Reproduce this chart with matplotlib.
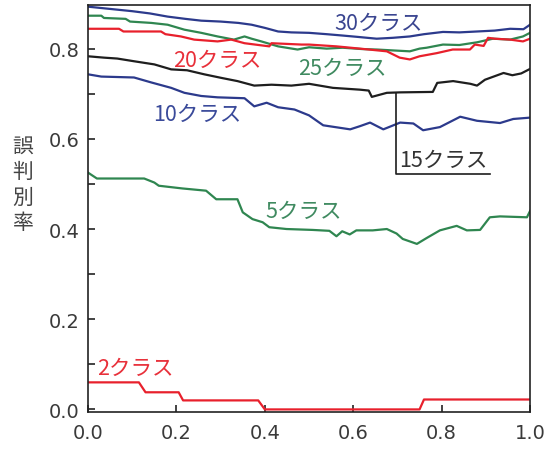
import matplotlib
matplotlib.use("Agg")
import matplotlib.pyplot as plt

plt.rcParams['font.family'] = ['Noto Sans CJK JP', 'DejaVu Sans']

# ---- data ----
x30 = [0.0, 0.05, 0.1, 0.14, 0.18, 0.22, 0.256, 0.3, 0.34, 0.37, 0.40, 0.43, 0.46,
       0.5, 0.54, 0.576, 0.61, 0.653, 0.69, 0.728, 0.76, 0.803, 0.84, 0.88, 0.92,
       0.955, 0.985, 1.0]
y30 = [0.893, 0.888, 0.883, 0.878, 0.871, 0.866, 0.862, 0.860, 0.857, 0.853, 0.846,
       0.838, 0.836, 0.835, 0.832, 0.829, 0.826, 0.822, 0.824, 0.827, 0.832, 0.837,
       0.836, 0.838, 0.840, 0.844, 0.843, 0.853]

x25 = [0.0, 0.03, 0.036, 0.085, 0.095, 0.143, 0.18, 0.218, 0.256, 0.293, 0.33, 0.354,
       0.37, 0.392, 0.43, 0.474, 0.5, 0.54, 0.576, 0.62, 0.653, 0.69, 0.728, 0.75,
       0.766, 0.803, 0.84, 0.88, 0.916, 0.955, 0.984, 1.0]
y25 = [0.873, 0.873, 0.868, 0.866, 0.860, 0.857, 0.853, 0.842, 0.835, 0.827, 0.820,
       0.827, 0.822, 0.816, 0.805, 0.798, 0.803, 0.800, 0.802, 0.799, 0.798, 0.796,
       0.794, 0.800, 0.802, 0.809, 0.808, 0.814, 0.822, 0.820, 0.827, 0.835]

x20 = [0.0, 0.07, 0.08, 0.165, 0.175, 0.21, 0.24, 0.293, 0.324, 0.354, 0.41, 0.415,
       0.483, 0.5, 0.562, 0.615, 0.676, 0.705, 0.728, 0.75, 0.789, 0.825, 0.864,
       0.875, 0.895, 0.905, 0.92, 0.955, 0.984, 1.0]
y20 = [0.844, 0.844, 0.838, 0.838, 0.832, 0.827, 0.820, 0.816, 0.820, 0.812, 0.805,
       0.812, 0.809, 0.809, 0.805, 0.800, 0.794, 0.780, 0.776, 0.783, 0.790, 0.798,
       0.798, 0.809, 0.806, 0.824, 0.822, 0.820, 0.816, 0.822]

x15 = [0.0, 0.036, 0.066, 0.104, 0.15, 0.188, 0.224, 0.263, 0.302, 0.338, 0.376,
       0.415, 0.46, 0.5, 0.554, 0.615, 0.635, 0.642, 0.676, 0.706, 0.78, 0.79,
       0.826, 0.865, 0.88, 0.898, 0.94, 0.96, 0.98, 1.0]
y15 = [0.783, 0.780, 0.778, 0.772, 0.765, 0.754, 0.752, 0.743, 0.735, 0.728, 0.718,
       0.720, 0.718, 0.722, 0.713, 0.709, 0.707, 0.693, 0.702, 0.703, 0.704, 0.724,
       0.728, 0.722, 0.718, 0.731, 0.746, 0.741, 0.745, 0.755]

x10 = [0.0, 0.03, 0.104, 0.143, 0.188, 0.218, 0.256, 0.293, 0.354, 0.376, 0.404,
       0.43, 0.467, 0.5, 0.532, 0.593, 0.615, 0.638, 0.668, 0.706, 0.736, 0.758,
       0.796, 0.842, 0.88, 0.932, 0.962, 1.0]
y10 = [0.743, 0.738, 0.736, 0.725, 0.713, 0.702, 0.695, 0.692, 0.690, 0.672, 0.680,
       0.670, 0.665, 0.652, 0.630, 0.621, 0.628, 0.636, 0.621, 0.636, 0.634, 0.619,
       0.626, 0.649, 0.640, 0.635, 0.644, 0.647]

x5 = [0.0, 0.02, 0.127, 0.15, 0.16, 0.213, 0.267, 0.29, 0.338, 0.35, 0.372, 0.395,
      0.41, 0.449, 0.508, 0.546, 0.562, 0.575, 0.592, 0.607, 0.644, 0.676, 0.698,
      0.712, 0.744, 0.766, 0.796, 0.834, 0.857, 0.887, 0.909, 0.932, 0.993, 1.0]
y5 = [0.525, 0.512, 0.512, 0.503, 0.496, 0.490, 0.485, 0.466, 0.466, 0.437, 0.422,
      0.415, 0.404, 0.400, 0.398, 0.396, 0.384, 0.395, 0.388, 0.397, 0.397, 0.400,
      0.390, 0.378, 0.367, 0.380, 0.397, 0.407, 0.397, 0.398, 0.426, 0.428, 0.426,
      0.440]

x2 = [0.0, 0.115, 0.13, 0.205, 0.215, 0.385, 0.40, 0.75, 0.76, 1.0]
y2 = [0.06, 0.06, 0.038, 0.038, 0.02, 0.02, 0.0, 0.0, 0.022, 0.022]

labels = ["30クラス", "25クラス", "20クラス", "15クラス", "10クラス", "5クラス", "2クラス"]
ylabel = "誤判別率"
xticks = [0.0, 0.2, 0.4, 0.6, 0.8, 1.0]
yticks = [0.0, 0.2, 0.4, 0.6, 0.8]

# ---- styles ----
c_blue = '#2c3a8c'
c_green = '#2f8650'
c_red = '#e8202c'
c_black = '#1e1e1e'

fig = plt.figure(figsize=(5.47, 4.52), dpi=100)
ax = fig.add_axes([0.161, 0.086, 0.808, 0.901])

lw = 1.6
ax.plot(x30, y30, color=c_blue, lw=lw)
ax.plot(x25, y25, color=c_green, lw=lw)
ax.plot(x20, y20, color=c_red, lw=lw)
ax.plot(x15, y15, color=c_black, lw=lw)
ax.plot(x10, y10, color=c_blue, lw=lw)
ax.plot(x5, y5, color=c_green, lw=lw)
ax.plot(x2, y2, color=c_red, lw=lw)

ax.set_xlim(0, 1)
ax.set_ylim(-0.006, 0.897)

fs = 15.5
ax.text(0.658, 0.856, labels[0], color='#3a4590', fontsize=fs, ha='center', va='center')
ax.text(0.575, 0.758, labels[1], color='#3f8a60', fontsize=fs, ha='center', va='center')
ax.text(0.292, 0.776, labels[2], color='#e8303a', fontsize=fs, ha='center', va='center')
ax.text(0.703, 0.553, labels[3], color='#333333', fontsize=fs, ha='left', va='center')
ax.text(0.247, 0.656, labels[4], color='#3a4a9a', fontsize=fs, ha='center', va='center')
ax.text(0.487, 0.441, labels[5], color='#3f8a60', fontsize=fs, ha='center', va='center')
ax.text(0.106, 0.091, labels[6], color='#e8303a', fontsize=fs, ha='center', va='center')

# leader line for 15 class label
ax.plot([0.697, 0.697, 0.91], [0.702, 0.521, 0.521], color=c_black, lw=1.2)

ax.set_xticks(xticks)
ax.set_xticklabels([f"{v:.1f}" for v in xticks])
ax.set_yticks(yticks)
ax.set_yticklabels([f"{v:.1f}" for v in yticks])
ax.set_yticks([0.1, 0.3, 0.5, 0.7], minor=True)
ax.tick_params(axis='both', which='both', direction='in', length=5, width=1.2,
               colors='#222222', labelcolor='#3a3a3a')
ax.tick_params(axis='y', which='major', pad=6, labelsize=14)
ax.tick_params(axis='x', which='major', pad=8, labelsize=14)
for lbl in ax.get_xticklabels() + ax.get_yticklabels():
    lbl.set_family('DejaVu Sans')
for s in ax.spines.values():
    s.set_linewidth(1.2)
    s.set_color('#222222')

fig.text(23 / 547, 1 - 185 / 452, "\n".join(ylabel), fontsize=15, color='#444444',
         ha='center', va='center', linespacing=1.2)

fig.savefig('out.png', dpi=100)
